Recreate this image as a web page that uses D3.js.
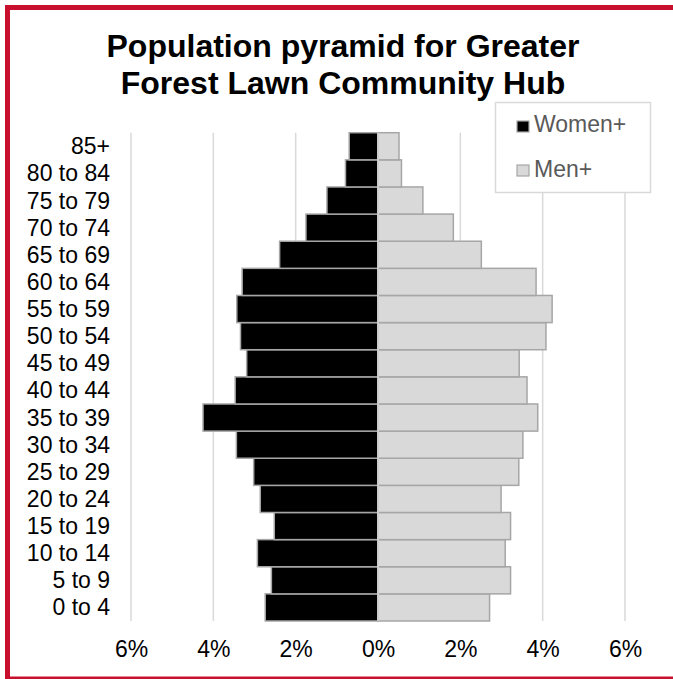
<!DOCTYPE html>
<html>
<head>
<meta charset="utf-8">
<script src="https://cdn.jsdelivr.net/npm/d3@7"></script>
<style>
html,body{margin:0;padding:0;background:#fff;}
svg{display:block;font-family:"Liberation Sans",Arial,sans-serif;}
</style>
</head>
<body>
<svg id="chart" width="673" height="679"></svg>
<script>
// Data (bottom to top: 0 to 4 ... 85+)
const categories = ["0 to 4","5 to 9","10 to 14","15 to 19","20 to 24","25 to 29","30 to 34","35 to 39","40 to 44","45 to 49","50 to 54","55 to 59","60 to 64","65 to 69","70 to 74","75 to 79","80 to 84","85+"];
const women = [2.74, 2.59, 2.93, 2.52, 2.86, 3.02, 3.44, 4.25, 3.47, 3.19, 3.34, 3.43, 3.30, 2.39, 1.75, 1.24, 0.79, 0.70];
const men   = [2.71, 3.22, 3.09, 3.22, 2.99, 3.42, 3.52, 3.88, 3.62, 3.43, 4.08, 4.23, 3.84, 2.51, 1.83, 1.09, 0.57, 0.51];
const tickValues = [-6, -4, -2, 0, 2, 4, 6];
const tickLabels = ["6%", "4%", "2%", "0%", "2%", "4%", "6%"];
const seriesNames = ["Women+", "Men+"];
const titleLines = ["Population pyramid for Greater", "Forest Lawn Community Hub"];

const svg = d3.select("#chart");

// red frame
svg.append("rect")
  .attr("x", 7.5).attr("y", 7.5).attr("width", 680).attr("height", 671.5)
  .attr("fill", "none").attr("stroke", "#C8102E").attr("stroke-width", 5);

const x = d3.scaleLinear().domain([-6, 6]).range([131, 625]);
const y = d3.scaleBand().domain(categories.slice().reverse()).range([132.7, 621]).padding(0);

// gridlines
svg.append("g").selectAll("line").data(tickValues).join("line")
  .attr("x1", d => x(d)).attr("x2", d => x(d))
  .attr("y1", 132.7).attr("y2", 621)
  .attr("stroke", "#d9d9d9").attr("stroke-width", 1.5);

// bars
const rows = categories.map((c, i) => ({c, w: women[i], m: men[i]}));
const barStroke = "#a6a6a6";
svg.append("g").selectAll("rect").data(rows).join("rect")
  .attr("x", d => x(-d.w)).attr("y", d => y(d.c))
  .attr("width", d => x(0) - x(-d.w)).attr("height", y.bandwidth())
  .attr("fill", "#000").attr("stroke", barStroke).attr("stroke-width", 1.5);
svg.append("g").selectAll("rect").data(rows).join("rect")
  .attr("x", x(0)).attr("y", d => y(d.c))
  .attr("width", d => x(d.m) - x(0)).attr("height", y.bandwidth())
  .attr("fill", "#d9d9d9").attr("stroke", barStroke).attr("stroke-width", 1.5);

// zero line
svg.append("line").attr("x1", x(0)).attr("x2", x(0)).attr("y1", 132.7).attr("y2", 621)
  .attr("stroke", "#d9d9d9").attr("stroke-width", 1.5);

// category labels
svg.append("g").selectAll("text").data(categories).join("text")
  .attr("x", 110).attr("y", d => y(d) + y.bandwidth() / 2)
  .attr("dy", "0.35em").attr("text-anchor", "end")
  .attr("font-size", 23).attr("fill", "#000").text(d => d);

// x axis labels
const xAxis = d3.axisBottom(x).tickValues(tickValues)
  .tickFormat((d, i) => tickLabels[i]).tickSize(0).tickPadding(0);
const gx = svg.append("g").attr("transform", "translate(0,641)").call(xAxis);
gx.select(".domain").remove();
gx.selectAll("text").attr("font-size", 23).attr("fill", "#000")
  .attr("font-family", "Liberation Sans, Arial, sans-serif").attr("dy", "0.71em");

// title
svg.append("g").selectAll("text").data(titleLines).join("text")
  .attr("x", 343).attr("y", (d, i) => 57 + i * 37)
  .attr("text-anchor", "middle").attr("font-size", 32).attr("font-weight", "bold")
  .attr("fill", "#000").text(d => d);

// legend
const lg = svg.append("g");
lg.append("rect").attr("x", 495.5).attr("y", 102.5).attr("width", 155).attr("height", 90)
  .attr("fill", "#fff").attr("stroke", "#d9d9d9").attr("stroke-width", 1.5);
const legendFills = ["#000", "#d9d9d9"];
seriesNames.forEach((s, i) => {
  lg.append("rect").attr("x", 517).attr("y", 121 + i * 44).attr("width", 12).attr("height", 11)
    .attr("fill", legendFills[i]).attr("stroke", barStroke).attr("stroke-width", 1.2);
  lg.append("text").attr("x", 534).attr("y", 132 + i * 45)
    .attr("font-size", 23).attr("fill", "#595959").text(s);
});
</script>
</body>
</html>
